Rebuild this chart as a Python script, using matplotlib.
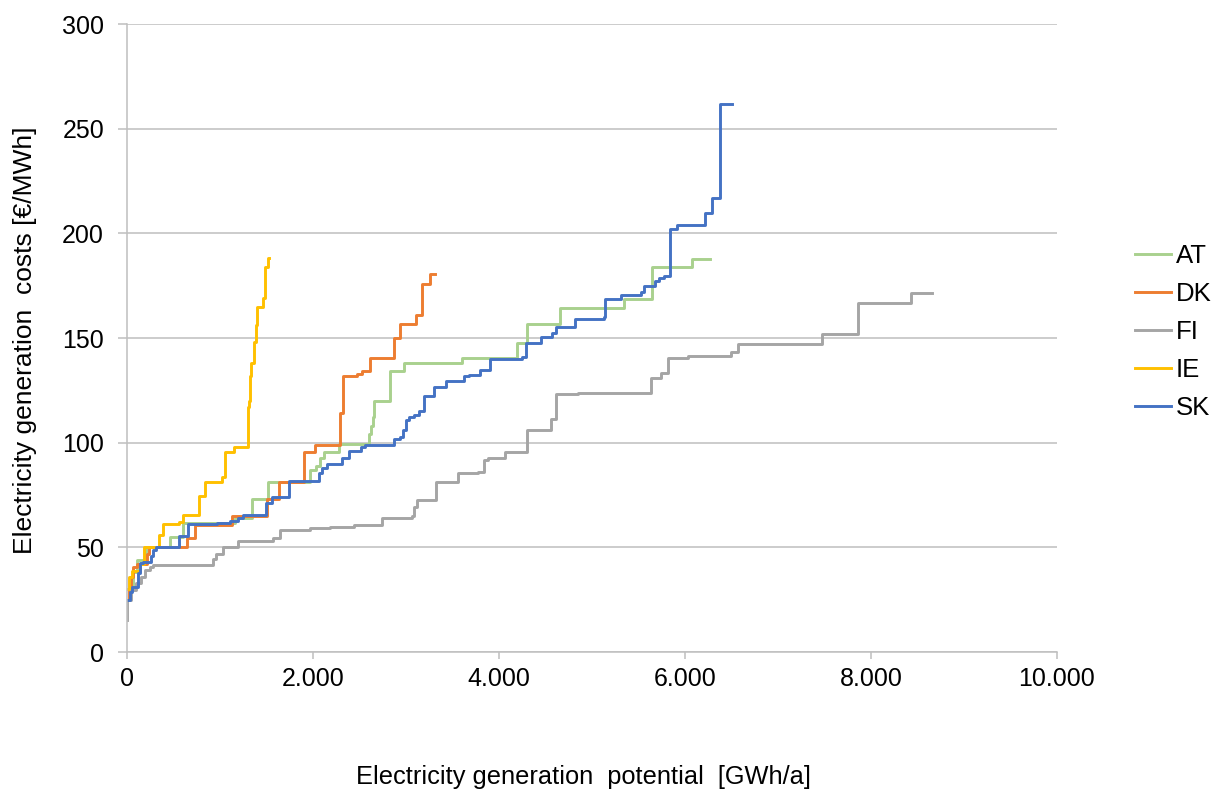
import matplotlib
matplotlib.use("Agg")
import matplotlib.pyplot as plt
from matplotlib.ticker import FuncFormatter

plt.rcParams["font.family"] = ["Liberation Sans", "DejaVu Sans"]

# step curves: potential [GWh/a] where each cost level starts, cost [EUR/MWh]
at_x = [0, 30, 60, 110, 200, 460, 604, 1162, 1342, 1521, 1964, 2030, 2077, 2115, 2275,
        2605, 2625, 2640, 2659, 2831, 2975, 3597, 4190, 4302, 4654, 5343, 5648, 6078, 6270]
at_y = [25, 30, 38, 44, 50, 55, 61.5, 64, 73, 81, 87, 89, 92.5, 95.5, 99.4,
        104, 108, 112.4, 119.8, 134.4, 138, 140.3, 147.5, 156.7, 164.5, 168.5, 183.7, 187.6, 187.6]

dk_x = [0, 20, 40, 68, 110, 212, 240, 642, 732, 1130, 1500, 1630, 1900, 2024, 2293,
        2322, 2472, 2530, 2608, 2867, 2939, 3111, 3172, 3262, 3315]
dk_y = [25, 30, 36, 40.7, 42, 47, 50, 54.3, 60.7, 65, 73, 81, 95.7, 98.9, 114,
        131.8, 132.6, 134, 140.3, 150, 156.5, 161, 176, 180.6, 180.6]

fi_x = [0, 5, 40, 100, 150, 190, 250, 280, 929, 960, 1037, 1198, 1575, 1647, 1971, 2187,
        2439, 2745, 3068, 3085, 3122, 3320, 3561, 3770, 3841, 3880, 4060, 4305, 4555, 4609,
        4849, 5637, 5744, 5813, 6030, 6498, 6575, 7469, 7858, 8428, 8660]
fi_y = [15.3, 24.8, 29.6, 32.8, 36, 39, 40.8, 41.6, 44.5, 46.8, 50.3, 53.2, 54.3, 58.3, 59, 59.9,
        60.7, 63.8, 65, 69.4, 72.6, 81.4, 85.3, 86.1, 91.7, 92.5, 95.5, 106, 111.2, 123.3,
        123.6, 130.8, 133.2, 140.4, 141.2, 143.1, 147.3, 151.9, 166.8, 171.6, 171.6]

ie_x = [0, 20, 50, 140, 183, 348, 391, 561, 604, 777, 838, 1018, 1054, 1151, 1299,
        1305, 1317, 1324, 1330, 1370, 1385, 1403, 1467, 1485, 1514, 1532]
ie_y = [30, 36, 38.5, 42, 50, 56, 61, 62, 65.4, 74.7, 81.4, 83.7, 95.7, 98, 98.9,
        117, 120, 132, 138, 148, 156, 165, 169, 184, 188.4, 188.4]

sk_x = [0, 30, 55, 122, 144, 170, 263, 283, 311, 563, 660, 964, 1108, 1198, 1252, 1493,
        1557, 1737, 2068, 2100, 2151, 2313, 2385, 2515, 2560, 2867, 2939, 2970, 3003, 3030,
        3089, 3136, 3197, 3305, 3434, 3620, 3680, 3800, 3900, 4248, 4295, 4453, 4571, 4614,
        4822, 5127, 5145, 5307, 5522, 5558, 5673, 5720, 5773, 5834, 5917, 6211, 6294, 6372, 6509]
sk_y = [24.8, 28.7, 31, 37.6, 42.3, 43, 46, 48.7, 50.3, 55.2, 61.1, 61.8, 62.7, 64, 65.4, 71,
        74, 81.8, 85.3, 87.7, 90, 92.5, 96, 98.1, 98.9, 101.6, 102.9, 106, 110.8, 112.5,
        113.2, 115.3, 122.3, 126.4, 129.6, 131.8, 132.3, 134.7, 139.8, 141.1, 147.5, 150.6, 152.2, 155.4,
        158.9, 160.2, 168.6, 170.5, 172.2, 174.8, 177, 178.5, 179.6, 202, 204, 209.9, 216.7, 261.6, 261.6]

series = [
    ("AT", at_x, at_y, "#A9D18E"),
    ("DK", dk_x, dk_y, "#ED7D31"),
    ("FI", fi_x, fi_y, "#A5A5A5"),
    ("IE", ie_x, ie_y, "#FFC000"),
    ("SK", sk_x, sk_y, "#4472C4"),
]

fig = plt.figure(figsize=(12.18, 7.92), dpi=100)
ax = fig.add_axes([127 / 1218, 1 - 652 / 792, 930 / 1218, 628 / 792])

for name, xs, ys, col in series:
    ax.plot(xs, ys, drawstyle="steps-post", color=col, lw=2.1, label=name)

ax.set_xlim(0, 10000)
ax.set_ylim(0, 300)
ax.set_xticks(range(0, 10001, 2000))
ax.set_yticks(range(0, 301, 50))
ax.xaxis.set_major_formatter(FuncFormatter(lambda v, p: f"{int(v):,}".replace(",", ".")))

ax.grid(axis="y", color="#BFBFBF", lw=1.1)
ax.set_axisbelow(True)
for s in ["top", "right"]:
    ax.spines[s].set_visible(False)
for s in ["left", "bottom"]:
    ax.spines[s].set_color("#BFBFBF")
    ax.spines[s].set_linewidth(1.1)
ax.tick_params(axis="x", colors="#BFBFBF", labelcolor="black", length=5, width=1.1,
               labelsize=18, pad=6)
ax.tick_params(axis="y", colors="#BFBFBF", labelcolor="black", length=6.5, width=1.1,
               labelsize=18, pad=10)

fig.text(583 / 1218, 1 - 777 / 792, "Electricity generation  potential  [GWh/a]",
         ha="center", va="center", fontsize=18.3)
fig.text(25 / 1218, 1 - 340 / 792, "Electricity generation  costs [€/MWh]",
         ha="center", va="center", rotation=90, fontsize=19)

fig.legend(loc="center left", bbox_to_anchor=(1135 / 1218, 1 - 332 / 792), frameon=False,
           fontsize=18.5, handlelength=1.4, handletextpad=0.2, labelspacing=0.55,
           borderaxespad=0, borderpad=0)

fig.savefig("out.png", dpi=100)
